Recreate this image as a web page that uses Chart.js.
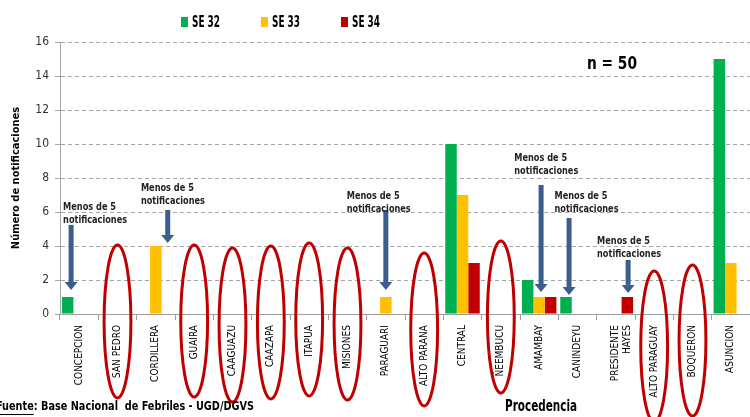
<!DOCTYPE html>
<html>
<head>
<meta charset="utf-8">
<script src="https://cdn.jsdelivr.net/npm/chart.js@4.4.1/dist/chart.umd.min.js"></script>
<style>
  html, body { margin: 0; padding: 0; background: #fff; }
  #wrap { width: 750px; height: 417px; position: relative; }
</style>
</head>
<body>
<div id="wrap"><canvas id="chart"></canvas></div>
<script>
// categorias (departamentos)
const categories = ['CONCEPCION', 'SAN PEDRO', 'CORDILLERA', 'GUAIRA', 'CAAGUAZU', 'CAAZAPA', 'ITAPUA',
  'MISIONES', 'PARAGUARI', 'ALTO PARANA', 'CENTRAL', 'ÑEEMBUCU', 'AMAMBAY', 'CANINDEYU',
  ['PRESIDENTE', 'HAYES'], 'ALTO PARAGUAY', 'BOQUERON', 'ASUNCION'];
const seriesNames = ['SE 32', 'SE 33', 'SE 34'];
const se32 = [1, null, null, null, null, null, null, null, null, null, 10, null, 2, 1, null, null, null, 15];
const se33 = [null, null, 4, null, null, null, null, null, 1, null, 7, null, 1, null, null, null, null, 3];
const se34 = [null, null, null, null, null, null, null, null, null, null, 3, null, 1, null, 1, null, null, null];
const yTicks = [0, 2, 4, 6, 8, 10, 12, 14, 16];

// elipses rojas (departamentos sin notificaciones): indice, tope, fondo (en unidades del eje y)
const ellipseIdx = [1, 3, 4, 5, 6, 7, 9, 11, 15, 16];
const ellipseTop = [4.06, 4.06, 3.88, 4.0, 4.18, 3.88, 3.59, 4.29, 2.53, 2.88];
const ellipseBottom = [-4.94, -4.88, -5.18, -5.0, -4.82, -5.06, -5.41, -4.65, -6.35, -6.0];

// flechas "Menos de 5 notificaciones"
const arrowIdx = [0, 2, 8, 12, 13, 14];
const arrowFrom = [5.24, 6.12, 6.12, 7.59, 5.65, 3.18];
const arrowTo = [1.41, 4.18, 1.41, 1.29, 1.12, 1.24];
const arrowShift = [-0.21, 0.31, 0.0, 0.05, -0.22, 0.32];
const noteShift = [-0.42, -0.39, -1.02, -0.65, -0.6, -0.49];
const noteY = [6.3, 7.41, 6.94, 9.18, 6.94, 4.29];

const colors = ['#00B050', '#FFC000', '#C00000'];
const narrow = "'Liberation Sans Narrow', 'DejaVu Sans Condensed', sans-serif";

// dibuja leyenda, flechas, elipses y textos extra
const extras = {
  id: 'extras',
  afterDraw(chart) {
    const { ctx, scales: { x, y } } = chart;
    const cw = x.getPixelForValue(1) - x.getPixelForValue(0);
    ctx.save();

    // leyenda (texto comprimido como en la imagen)
    ctx.font = 'bold 15px ' + narrow;
    ctx.textBaseline = 'middle';
    seriesNames.forEach((name, i) => {
      const lx = 181 + i * 80;
      ctx.fillStyle = colors[i];
      ctx.fillRect(lx, 17, 7, 10);
      ctx.fillStyle = '#000';
      ctx.fillText(name, lx + 11, 23, 28);
    });

    // elipses
    ctx.strokeStyle = '#C00000';
    ctx.lineWidth = 3;
    ellipseIdx.forEach((idx, i) => {
      const cx = x.getPixelForValue(idx);
      const top = y.getPixelForValue(ellipseTop[i]);
      const bot = y.getPixelForValue(ellipseBottom[i]);
      ctx.beginPath();
      ctx.ellipse(cx, (top + bot) / 2, cw * 0.35, (bot - top) / 2, 0, 0, Math.PI * 2);
      ctx.stroke();
    });

    // flechas y notas
    arrowIdx.forEach((idx, i) => {
      const cx = x.getPixelForValue(idx);
      const ax = cx + arrowShift[i] * cw;
      const y0 = y.getPixelForValue(arrowFrom[i]);
      const y1 = y.getPixelForValue(arrowTo[i]);
      ctx.fillStyle = '#3B5E8C';
      ctx.fillRect(ax - 2.5, y0, 5, y1 - y0 - 8);
      ctx.beginPath();
      ctx.moveTo(ax - 6.5, y1 - 8);
      ctx.lineTo(ax + 6.5, y1 - 8);
      ctx.lineTo(ax, y1);
      ctx.closePath();
      ctx.fill();

      const tx = cx + noteShift[i] * cw;
      const ty = y.getPixelForValue(noteY[i]);
      ctx.fillStyle = '#222';
      ctx.font = 'bold 11px ' + narrow;
      ctx.textAlign = 'left';
      ctx.fillText('Menos de 5', tx, ty, 53);
      ctx.fillText('notificaciones', tx, ty + 13, 64);
    });

    // n = 50
    ctx.fillStyle = '#000';
    ctx.font = 'bold 18px ' + narrow;
    ctx.textAlign = 'left';
    ctx.fillText('n = 50', 587, 64, 50);

    // titulo eje x
    ctx.font = 'bold 15px ' + narrow;
    ctx.textAlign = 'left';
    ctx.fillText('Procedencia', 505, 407, 72);

    // fuente
    ctx.font = 'bold 13px ' + narrow;
    const full = 'Fuente: Base Nacional  de Febriles - UGD/DGVS';
    const sx = Math.min(1, 258 / ctx.measureText(full).width);
    ctx.fillText(full, -4, 407, 258);
    const w = ctx.measureText('Fuente').width * sx;
    ctx.fillRect(-4, 414, w, 1);

    ctx.restore();
  }
};

new Chart(document.getElementById('chart'), {
  type: 'bar',
  data: {
    labels: categories,
    datasets: [
      { label: seriesNames[0], data: se32, backgroundColor: colors[0] },
      { label: seriesNames[1], data: se33, backgroundColor: colors[1] },
      { label: seriesNames[2], data: se34, backgroundColor: colors[2] }
    ]
  },
  options: {
    responsive: true,
    maintainAspectRatio: false,
    animation: false,
    categoryPercentage: 0.9,
    barPercentage: 1.0,
    layout: { padding: { top: 42, left: 0, right: 0, bottom: 0 } },
    plugins: {
      legend: { display: false },
      tooltip: { enabled: false }
    },
    scales: {
      x: {
        afterFit: (s) => { s.height = 103; },
        grid: { display: true, drawOnChartArea: false, offset: true, tickLength: 6, color: '#9f9f9f' },
        border: { color: '#9f9f9f' },
        ticks: {
          autoSkip: false, minRotation: 90, maxRotation: 90, padding: 5,
          color: '#000', font: { family: narrow, size: 10 }
        }
      },
      y: {
        min: 0, max: 16,
        afterFit: (s) => { s.width = 60; },
        afterBuildTicks: (s) => { s.ticks = yTicks.map(v => ({ value: v })); },
        grid: { color: '#a6a6a6', tickLength: 5, tickBorderDash: [] },
        border: { color: '#a6a6a6', dash: [4, 3] },
        ticks: { color: '#333', padding: 6, font: { family: narrow, size: 12 } },
        title: {
          display: true, text: 'Número de notificaciones', color: '#000',
          padding: { top: 10, bottom: 0 },
          font: { family: narrow, size: 11, weight: 'bold' }
        }
      }
    }
  },
  plugins: [extras]
});
</script>
</body>
</html>
